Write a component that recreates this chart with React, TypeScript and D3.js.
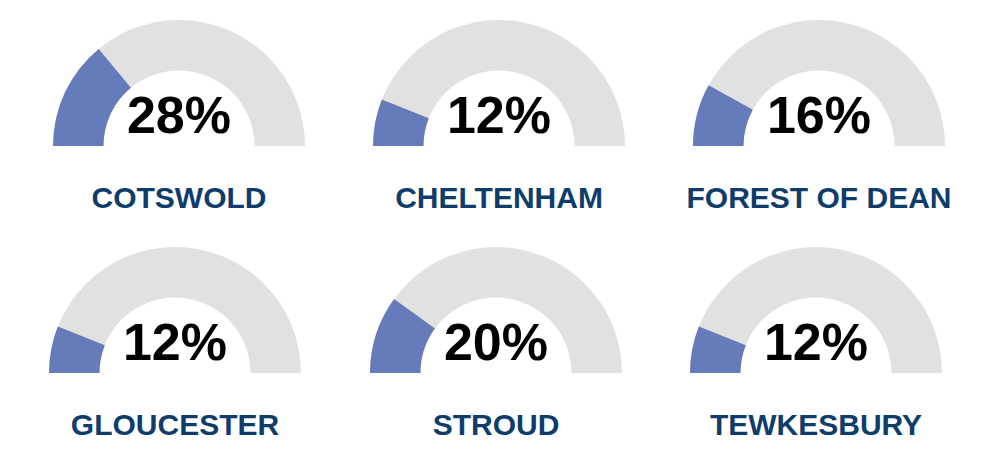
import React from 'react';
import * as d3 from 'd3';

const districts = ['COTSWOLD', 'CHELTENHAM', 'FOREST OF DEAN', 'GLOUCESTER', 'STROUD', 'TEWKESBURY'];
const shares = [28, 12, 16, 12, 20, 12];

const width = 991;
const height = 469;
const outerR = 126;
const innerR = 75.5;

// gauge centres (row 2 sits a touch left of row 1 in the original)
const rowCentres = [
    { y: 146, xs: [179, 499, 819] },
    { y: 373, xs: [175, 496, 816] },
];

const angle = d3.scaleLinear().domain([0, 100]).range([-Math.PI / 2, Math.PI / 2]);
const arc = d3.arc<{ start: number; end: number }>()
    .innerRadius(innerR)
    .outerRadius(outerR)
    .startAngle(d => d.start)
    .endAngle(d => d.end);

const Gauge: React.FC<{ x: number; y: number; value: number; label: string }> = ({ x, y, value, label }) => (
    <g transform={`translate(${x},${y})`}>
        <path d={arc({ start: angle(0), end: angle(100) }) || ''} fill="#e1e1e1" />
        <path d={arc({ start: angle(0), end: angle(value) }) || ''} fill="#667cba" />
        <text
            y={-13}
            textAnchor="middle"
            fontFamily="'Liberation Sans', Arial, sans-serif"
            fontWeight="bold"
            fontSize={52}
            fill="#000"
        >
            {value}%
        </text>
        <text
            y={62}
            textAnchor="middle"
            fontFamily="'Liberation Sans', Arial, sans-serif"
            fontWeight="bold"
            fontSize={30}
            fill="#0f3d6b"
        >
            {label}
        </text>
    </g>
);

export default function App() {
    return (
        <svg
            width={width}
            height={height}
            style={{ position: 'absolute', left: 0, top: 0, background: '#fff' }}
        >
            {districts.map((name, i) => {
                const row = rowCentres[Math.floor(i / 3)];
                return <Gauge key={name} x={row.xs[i % 3]} y={row.y} value={shares[i]} label={name} />;
            })}
        </svg>
    );
}
